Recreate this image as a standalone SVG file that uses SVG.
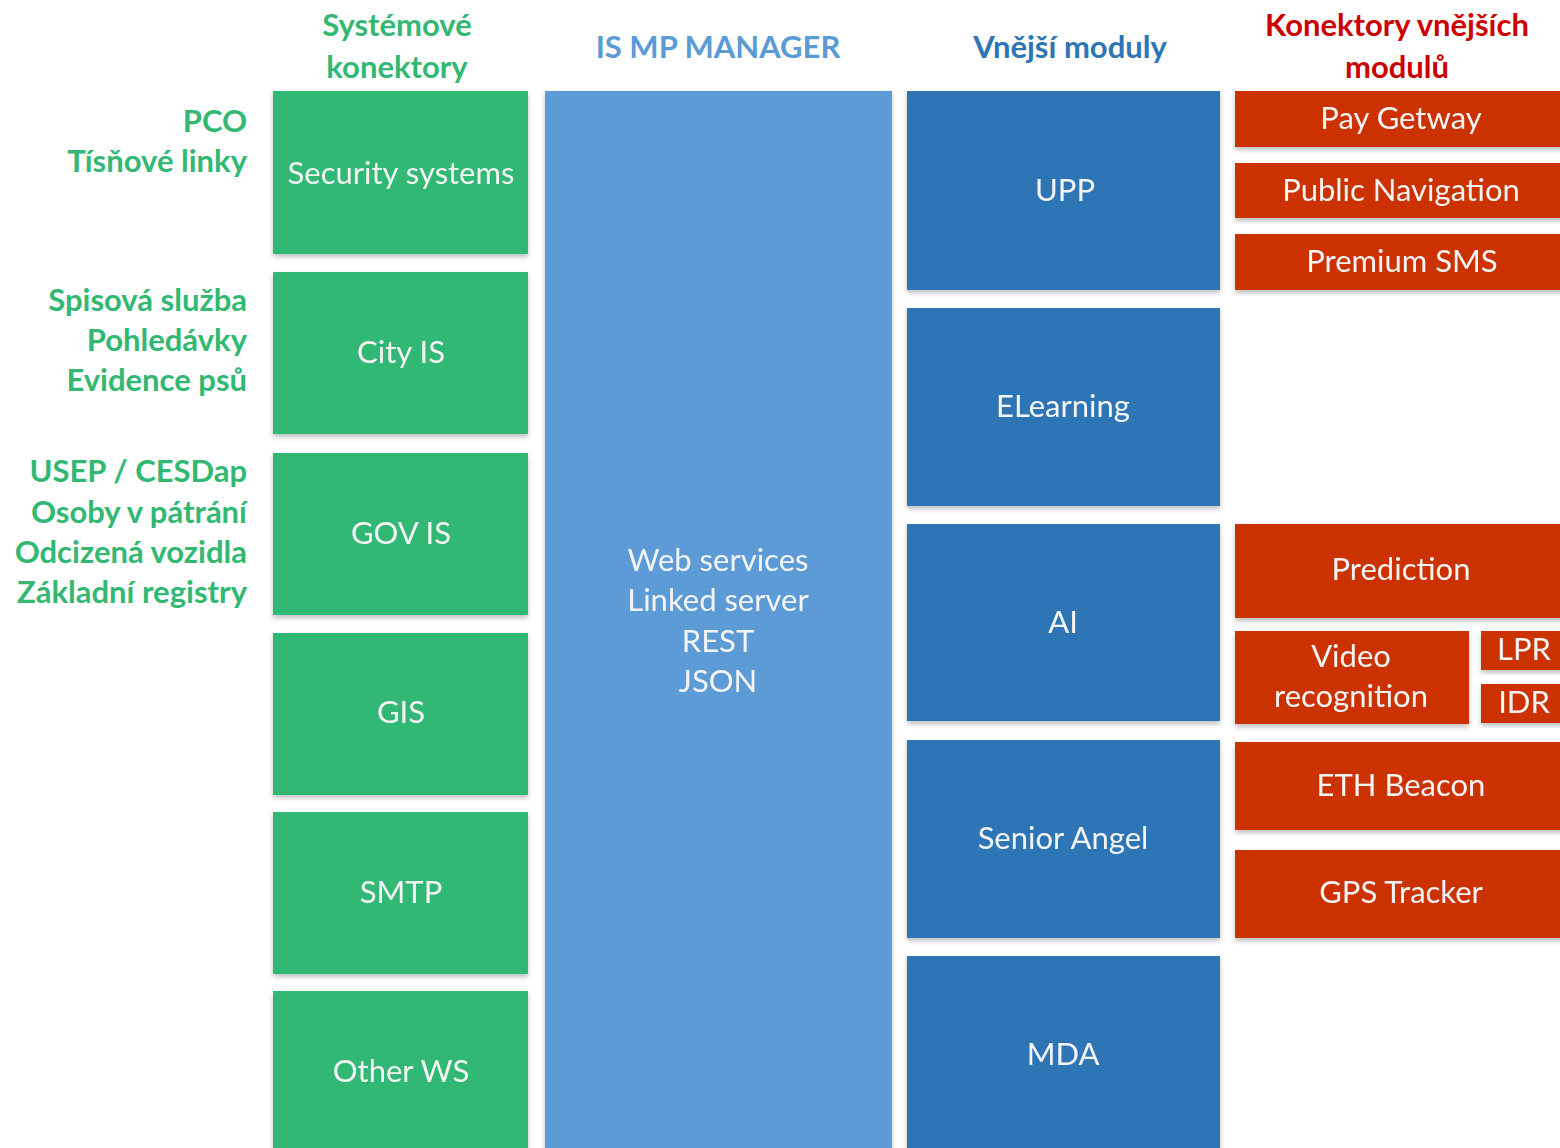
<svg xmlns="http://www.w3.org/2000/svg" width="1560" height="1148" viewBox="0 0 1560 1148">
<style>
.hdr{font-family:Lato,"Open Sans","Liberation Sans",sans-serif;font-weight:bold;font-size:31px;text-anchor:middle}
.lbl{font-family:Lato,"Open Sans","Liberation Sans",sans-serif;font-weight:bold;font-size:31px;text-anchor:end;fill:#33B874}
.t{font-family:Lato,"Open Sans","Liberation Sans",sans-serif;font-size:31px;fill:#F4F4F4;text-anchor:middle;dominant-baseline:central}
.g{fill:#33B874}
.lb{fill:#5B9BD5}
.db{fill:#2E75B6}
.r{fill:#CC3300}
</style>
<defs>
<filter id="sh" x="-5%" y="-5%" width="112%" height="115%">
<feGaussianBlur in="SourceAlpha" stdDeviation="2.5"/>
<feOffset dx="0" dy="3" result="b"/>
<feComponentTransfer><feFuncA type="linear" slope="0.25"/></feComponentTransfer>
<feMerge><feMergeNode/><feMergeNode in="SourceGraphic"/></feMerge>
</filter>
</defs>
<rect width="1560" height="1148" fill="#FFFFFF"/>
<g id="headers">
<text class="hdr" x="397" y="36" fill="#33B874">Systémové</text>
<text class="hdr" x="397" y="78" fill="#33B874">konektory</text>
<text class="hdr" x="718" y="58" fill="#5B9BD5">IS MP MANAGER</text>
<text class="hdr" x="1070" y="58" fill="#2E75B6">Vnější moduly</text>
<text class="hdr" x="1397" y="36" fill="#CC0000">Konektory vnějších</text>
<text class="hdr" x="1397" y="78" fill="#CC0000">modulů</text>
</g>
<g id="side-labels">
<text class="lbl" x="247" y="132">PCO</text>
<text class="lbl" x="247" y="172">Tísňové linky</text>
<text class="lbl" x="247" y="311">Spisová služba</text>
<text class="lbl" x="247" y="351">Pohledávky</text>
<text class="lbl" x="247" y="391">Evidence psů</text>
<text class="lbl" x="247" y="482">USEP / CESDap</text>
<text class="lbl" x="247" y="523">Osoby v pátrání</text>
<text class="lbl" x="247" y="563">Odcizená vozidla</text>
<text class="lbl" x="247" y="603">Základní registry</text>
</g>
<g id="security-systems" filter="url(#sh)"><rect class="g" x="273" y="91" width="255" height="163"/><text class="t" x="401" y="172">Security systems</text></g>
<g id="city-is" filter="url(#sh)"><rect class="g" x="273" y="272" width="255" height="162"/><text class="t" x="401" y="351">City IS</text></g>
<g id="gov-is" filter="url(#sh)"><rect class="g" x="273" y="453" width="255" height="162"/><text class="t" x="401" y="532">GOV IS</text></g>
<g id="gis" filter="url(#sh)"><rect class="g" x="273" y="633" width="255" height="162"/><text class="t" x="401" y="711">GIS</text></g>
<g id="smtp" filter="url(#sh)"><rect class="g" x="273" y="812" width="255" height="162"/><text class="t" x="401" y="891">SMTP</text></g>
<g id="other-ws" filter="url(#sh)"><rect class="g" x="273" y="991" width="255" height="170"/><text class="t" x="401" y="1070">Other WS</text></g>
<g id="is-mp-manager" filter="url(#sh)"><rect class="lb" x="545" y="91" width="347" height="1070"/>
<text class="t" x="718" y="559">Web services</text>
<text class="t" x="718" y="599">Linked server</text>
<text class="t" x="718" y="640">REST</text>
<text class="t" x="718" y="680">JSON</text>
</g>
<g id="upp" filter="url(#sh)"><rect class="db" x="907" y="91" width="313" height="199"/><text class="t" x="1065" y="189">UPP</text></g>
<g id="elearning" filter="url(#sh)"><rect class="db" x="907" y="308" width="313" height="198"/><text class="t" x="1063" y="405">ELearning</text></g>
<g id="ai" filter="url(#sh)"><rect class="db" x="907" y="524" width="313" height="197"/><text class="t" x="1063" y="621">AI</text></g>
<g id="senior-angel" filter="url(#sh)"><rect class="db" x="907" y="740" width="313" height="198"/><text class="t" x="1063" y="837">Senior Angel</text></g>
<g id="mda" filter="url(#sh)"><rect class="db" x="907" y="956" width="313" height="205"/><text class="t" x="1063" y="1053">MDA</text></g>
<g id="pay-getway" filter="url(#sh)"><rect class="r" x="1235" y="91" width="340" height="56"/><text class="t" x="1401" y="117">Pay Getway</text></g>
<g id="public-navigation" filter="url(#sh)"><rect class="r" x="1235" y="163" width="340" height="55"/><text class="t" x="1401" y="189">Public Navigation</text></g>
<g id="premium-sms" filter="url(#sh)"><rect class="r" x="1235" y="234" width="340" height="56"/><text class="t" x="1402" y="260">Premium SMS</text></g>
<g id="prediction" filter="url(#sh)"><rect class="r" x="1235" y="524" width="340" height="94"/><text class="t" x="1401" y="568">Prediction</text></g>
<g id="video-recognition" filter="url(#sh)"><rect class="r" x="1235" y="631" width="234" height="93"/><text class="t" x="1351" y="655">Video</text><text class="t" x="1351" y="695">recognition</text></g>
<g id="lpr" filter="url(#sh)"><rect class="r" x="1481" y="631" width="94" height="39"/><text class="t" x="1524" y="648">LPR</text></g>
<g id="idr" filter="url(#sh)"><rect class="r" x="1481" y="684" width="94" height="39"/><text class="t" x="1524" y="701">IDR</text></g>
<g id="eth-beacon" filter="url(#sh)"><rect class="r" x="1235" y="742" width="340" height="88"/><text class="t" x="1401" y="784">ETH Beacon</text></g>
<g id="gps-tracker" filter="url(#sh)"><rect class="r" x="1235" y="850" width="340" height="88"/><text class="t" x="1401" y="891">GPS Tracker</text></g>
<g id="connectors"></g>
</svg>
